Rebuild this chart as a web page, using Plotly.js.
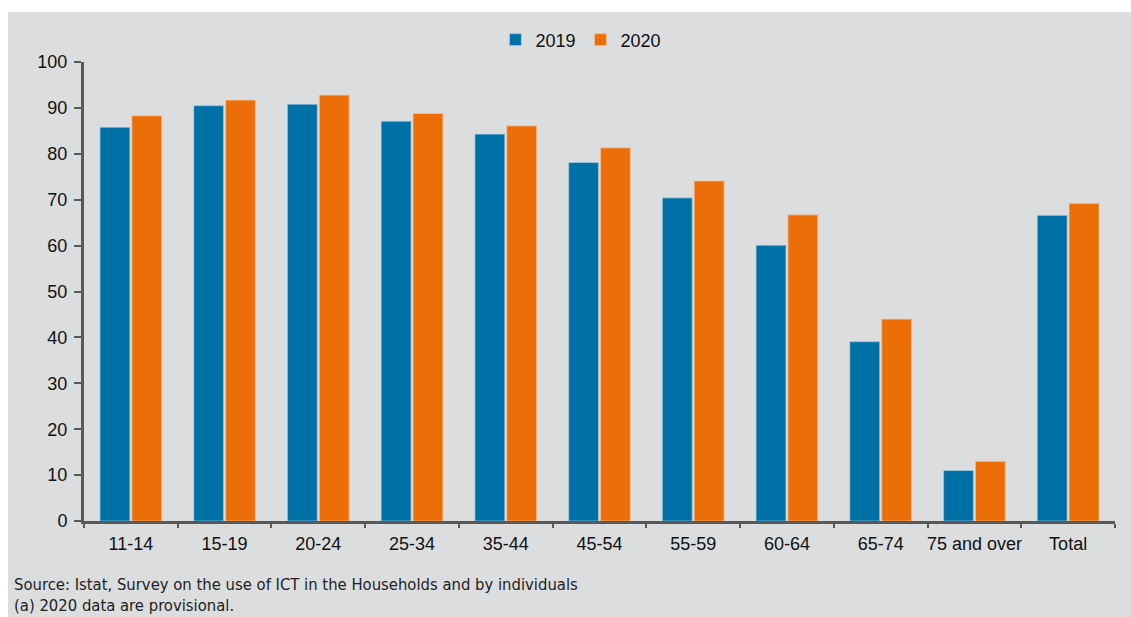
<!DOCTYPE html>
<html>
<head>
<meta charset="utf-8">
<script src="https://cdn.plot.ly/plotly-3.0.1.min.js"></script>
<style>
  html, body { margin: 0; padding: 0; background: #ffffff; width: 1131px; height: 617px; overflow: hidden; }
  #chart { position: absolute; left: 8px; top: 12px; width: 1123px; height: 605px; }
</style>
</head>
<body>
<div id="chart"></div>
<script>
const categories = ["11-14", "15-19", "20-24", "25-34", "35-44", "45-54", "55-59", "60-64", "65-74", "75 and over", "Total"];
const values2019 = [85.8, 90.5, 90.8, 87.1, 84.3, 78.1, 70.4, 60.1, 39.1, 11.0, 66.6];
const values2020 = [88.3, 91.7, 92.8, 88.8, 86.1, 81.3, 74.1, 66.7, 44.0, 13.0, 69.2];
const seriesNames = ["2019", "2020"];
const yTicks = [0, 10, 20, 30, 40, 50, 60, 70, 80, 90, 100];
const sourceLines = [
  "Source: Istat, Survey on the use of ICT in the Households and by individuals",
  "(a) 2020 data are provisional."
];

const axisColor = "#595959";
const sans = "'Liberation Sans', Arial, sans-serif";
const narrow = "'DejaVu Sans Condensed', 'Liberation Sans Narrow', sans-serif";
const baseFont = { family: sans, size: 18, color: "#111111" };

const traces = [
  {
    type: "bar", name: seriesNames[0], x: categories, y: values2019,
    marker: { color: "#0071a7", line: { color: "rgba(190,215,235,0.55)", width: 1.2 } },
    hoverinfo: "x+y"
  },
  {
    type: "bar", name: seriesNames[1], x: categories, y: values2020,
    marker: { color: "#eb6e08", line: { color: "rgba(250,200,160,0.6)", width: 1.2 } },
    hoverinfo: "x+y"
  }
];

const layout = {
  width: 1123, height: 605,
  paper_bgcolor: "#dcdddf",
  plot_bgcolor: "#dcdddf",
  font: baseFont,
  margin: { l: 76, r: 16, t: 50, b: 96, pad: 0, autoexpand: false },
  barmode: "group",
  bargap: 0.32,
  bargroupgap: 0.06,
  showlegend: true,
  legend: {
    orientation: "h", x: 0.482, xanchor: "center",
    yref: "container", y: 0.954, yanchor: "middle",
    font: { family: sans, size: 18, color: "#111111" },
    bgcolor: "rgba(0,0,0,0)", traceorder: "normal", itemwidth: 30
  },
  xaxis: {
    type: "category", tickangle: 0, automargin: false,
    showline: true, linecolor: axisColor, linewidth: 3,
    ticks: "outside", tickson: "boundaries", ticklen: 4, tickwidth: 2, tickcolor: axisColor,
    ticklabelstandoff: 4,
    showgrid: false, zeroline: false,
    tickfont: { family: sans, size: 18, color: "#111111" }
  },
  yaxis: {
    range: [0, 100], automargin: false,
    tickvals: yTicks, ticktext: yTicks.map(String),
    showline: true, linecolor: axisColor, linewidth: 3,
    ticks: "outside", ticklen: 7, tickwidth: 2, tickcolor: axisColor,
    ticklabelstandoff: 3,
    showgrid: false, zeroline: false,
    tickfont: { family: sans, size: 18, color: "#111111" }
  },
  annotations: [{
    text: sourceLines.join("<br>"), xref: "paper", yref: "paper",
    x: -0.0698, xanchor: "left",
    y: -0.1133, yanchor: "top",
    showarrow: false, align: "left",
    font: { family: narrow, size: 16.5, color: "#222222" }
  }]
};

Plotly.newPlot("chart", traces, layout, { displayModeBar: false, staticPlot: true });
</script>
</body>
</html>
